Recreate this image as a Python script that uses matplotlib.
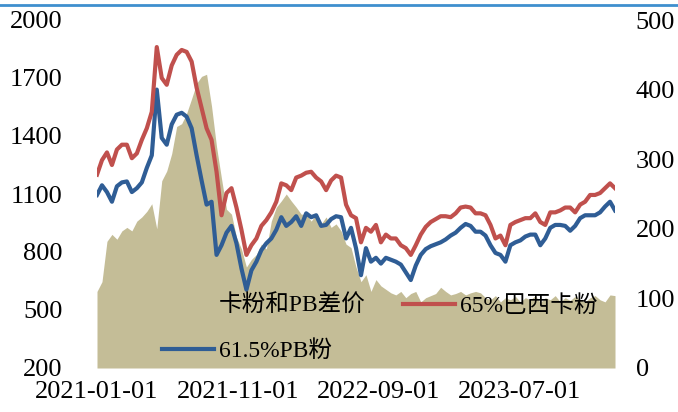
import matplotlib
matplotlib.use('Agg')
import matplotlib.pyplot as plt
from matplotlib.lines import Line2D
import pandas as pd

plt.rcParams['font.family'] = ['Liberation Serif', 'Noto Sans CJK SC']

# sampling dates (about every 11 days)
dates = pd.date_range('2021-01-01', '2024-01-23', periods=105)

# 65%巴西卡粉 (left axis)
kafen = [1200, 1275, 1315, 1250, 1330, 1355, 1355, 1285, 1310, 1380,
         1440, 1525, 1860, 1700, 1665, 1765, 1820, 1845, 1835, 1785,
         1650, 1545, 1440, 1380, 1215, 990, 1105, 1130, 1030, 915,
         785, 835, 870, 935, 965, 1005, 1060, 1155, 1145, 1120,
         1185, 1195, 1210, 1215, 1185, 1165, 1120, 1170, 1195, 1185,
         1045, 990, 975, 850, 925, 905, 940, 850, 890, 870,
         870, 835, 820, 785, 835, 890, 930, 955, 970, 985,
         985, 980, 1000, 1030, 1035, 1030, 1000, 1000, 990, 940,
         870, 885, 835, 940, 955, 965, 975, 975, 1000, 955,
         940, 1005, 1005, 1015, 1030, 1030, 1005, 1045, 1060, 1095,
         1095, 1105, 1130, 1155, 1130]

# 61.5%PB粉 (left axis)
pbfen = [1095, 1145, 1110, 1060, 1140, 1160, 1165, 1110, 1130, 1160,
         1235, 1300, 1640, 1390, 1355, 1460, 1510, 1520, 1500, 1440,
         1300, 1170, 1045, 1060, 785, 835, 900, 935, 845, 715,
         605, 705, 750, 810, 845, 870, 915, 980, 935, 955,
         985, 935, 1000, 980, 990, 935, 940, 970, 985, 980,
         870, 925, 820, 680, 820, 750, 770, 740, 770, 760,
         750, 735, 695, 655, 730, 785, 815, 830, 840, 850,
         865, 885, 900, 925, 945, 935, 905, 905, 885, 835,
         795, 785, 750, 835, 850, 860, 880, 890, 890, 835,
         870, 925, 940, 940, 935, 910, 935, 975, 990, 990,
         990, 1005, 1035, 1060, 1015]

# 卡粉和PB差价 (right axis)
spread = [110, 124, 182, 192, 185, 197, 202, 197, 211, 217,
          225, 236, 200, 269, 283, 308, 347, 351, 366, 387,
          409, 419, 422, 376, 318, 272, 228, 221, 188, 171,
          145, 156, 163, 178, 171, 211, 231, 240, 250, 240,
          231, 221, 221, 211, 221, 207, 217, 202, 207, 197,
          178, 173, 145, 124, 134, 110, 127, 118, 113, 108,
          105, 110, 101, 107, 110, 95, 101, 104, 107, 116,
          110, 105, 107, 110, 105, 108, 110, 108, 101, 98,
          104, 95, 101, 98, 103, 95, 101, 98, 104, 94,
          101, 98, 104, 95, 101, 97, 103, 98, 95, 101,
          104, 98, 95, 105, 104]

left_ticks = [200, 500, 800, 1100, 1400, 1700, 2000]
right_ticks = [0, 100, 200, 300, 400, 500]
x_ticks = ['2021-01-01', '2021-11-01', '2022-09-01', '2023-07-01']

red = '#C0504D'
blue = '#2F5D95'
tan = '#C4BD97'

fig = plt.figure(figsize=(6.78, 4.12), dpi=100)
ax = fig.add_axes([97 / 678, 44 / 412, 518 / 678, 348 / 412])
ax2 = ax.twinx()

ax2.fill_between(dates, spread, 0, color=tan, linewidth=0, label='卡粉和PB差价')
l_pb, = ax.plot(dates, pbfen, color=blue, lw=3, label='61.5%PB粉')
l_ka, = ax.plot(dates, kafen, color=red, lw=3, label='65%巴西卡粉')

ax.set_zorder(ax2.get_zorder() + 1)
ax.patch.set_visible(False)

ax.set_xlim(dates[0], dates[-1])
ax.set_ylim(200, 2000)
ax2.set_ylim(0, 500)
ax.set_yticks(left_ticks)
ax2.set_yticks(right_ticks)
ax.set_xticks(pd.to_datetime(x_ticks))
ax.set_xticklabels(x_ticks)

for a in (ax, ax2):
    for s in a.spines.values():
        s.set_visible(False)
ax.tick_params(axis='y', length=0, labelsize=19, pad=25)
ax.tick_params(axis='x', length=0, labelsize=19, pad=9)
ax2.tick_params(axis='y', length=0, labelsize=19, pad=15)

h_fill = ax2.collections[0]
leg = ax.legend([h_fill, l_pb, l_ka], ['卡粉和PB差价', '61.5%PB粉', '65%巴西卡粉'],
                ncol=2, frameon=False, fontsize=17,
                loc='upper left', bbox_to_anchor=(162 / 678, 1 - 295 / 412),
                bbox_transform=fig.transFigure, borderpad=0, borderaxespad=0,
                handlelength=2.2, handletextpad=0.2, columnspacing=1.6,
                labelspacing=1.0)

fig.add_artist(Line2D([0, 1], [1 - 5.3 / 412, 1 - 5.3 / 412], color='#3F8FCE',
                      lw=2, transform=fig.transFigure))

fig.savefig('out.png', dpi=100)
